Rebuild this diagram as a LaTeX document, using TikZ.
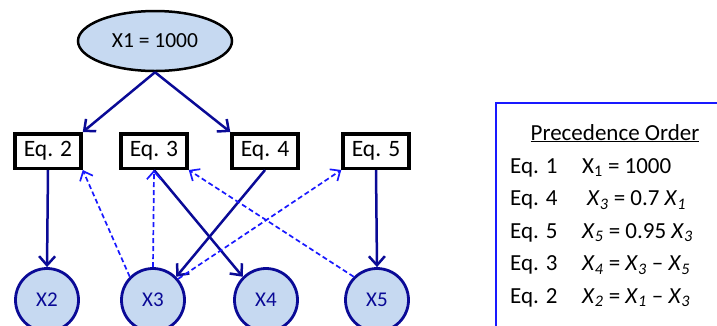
\documentclass[tikz,border=0pt]{standalone}
\usepackage{fontspec}
\setmainfont{Carlito}
\usetikzlibrary{arrows.meta,shapes.geometric}
\definecolor{navyline}{RGB}{10,10,150}
\definecolor{dashblue}{RGB}{25,25,255}
\definecolor{paleblue}{RGB}{198,217,241}
\newcommand{\xsub}[1]{\textit{X}\textsubscript{\textit{#1}}}

\begin{document}
\begin{tikzpicture}[x=1pt, y=-1pt,
    eqbox/.style={draw, line width=3.5pt, minimum width=66pt, minimum height=34.5pt,
      inner sep=0pt, font=\fontsize{23.5}{26}\selectfont},
    varnode/.style={circle, draw=navyline, line width=2.8pt, fill=paleblue,
      text=navyline, minimum size=63pt, inner sep=0pt, font=\fontsize{21}{24}\selectfont},
    solidarr/.style={-{Straight Barb[length=9pt,width=16pt]}, navyline, line width=2.5pt},
    dasharr/.style={-{Straight Barb[length=8pt,width=14pt]}, dashblue, line width=1.7pt,
      dash pattern=on 5pt off 3pt},
    ordertext/.style={anchor=base west, inner sep=0pt, font=\fontsize{23}{26}\selectfont}]
  \useasboundingbox (0,0) rectangle (717,325);
  \clip (0,0) rectangle (717,325);

  % graph
  \node[ellipse, draw, line width=2.5pt, fill=paleblue, minimum width=154pt,
    minimum height=60pt, inner sep=0pt, font=\fontsize{21.5}{26}\selectfont] (x1) at (155,41) {X1 = 1000};
  \node[eqbox] (eq2) at (48,151) {Eq. 2};
  \node[eqbox] (eq3) at (154,151) {Eq. 3};
  \node[eqbox] (eq4) at (265,151) {Eq. 4};
  \node[eqbox] (eq5) at (376,151) {Eq. 5};
  \node[varnode] (x2) at (47,300) {X2};
  \node[varnode] (x3) at (153,300) {X3};
  \node[varnode] (x4) at (266,300) {X4};
  \node[varnode] (x5) at (377,300) {X5};

  \draw[solidarr] (x1.south) -- (eq2.north east);
  \draw[solidarr] (x1.south) -- (eq4.north west);
  \draw[solidarr] (eq2.south) -- (x2.north);
  \draw[solidarr] (eq3.south) -- (x4.135);
  \draw[solidarr] (eq4.south) -- (x3.45);
  \draw[solidarr] (eq5.south) -- (x5.north);

  \draw[dasharr] (x3.135) -- (eq2.south east);
  \draw[dasharr] (x3.north) -- (eq3.south);
  \draw[dasharr] (x5.135) -- (eq3.south east);
  \draw[dasharr] (x3.40) -- (eq5.south west);

  % precedence order panel
  \draw[dashblue, line width=1.8pt] (730,103) -- (496,103) -- (496,340);
  \node[anchor=base, inner sep=0pt, font=\fontsize{23}{26}\selectfont] (title) at (615,140)
    {\underline{Precedence Order}};
  \foreach \eq/\yb in {1/173, 4/205.5, 5/238, 3/270.5, 2/303}
    \node[ordertext] (eqlbl\eq) at (510,\yb) {Eq. \eq};
  \node[ordertext] (rel1) at (582,173) {X\textsubscript{1} = 1000};
  \node[ordertext] (rel4) at (587,205.5) {\xsub{3} = 0.7 \xsub{1}};
  \node[ordertext] (rel5) at (582,238) {\xsub{5} = 0.95 \xsub{3}};
  \node[ordertext] (rel3) at (582,270.5) {\xsub{4} = \xsub{3} -- \xsub{5}};
  \node[ordertext] (rel2) at (582,303) {\xsub{2} = \xsub{1} -- \xsub{3}};
\end{tikzpicture}
\end{document}
